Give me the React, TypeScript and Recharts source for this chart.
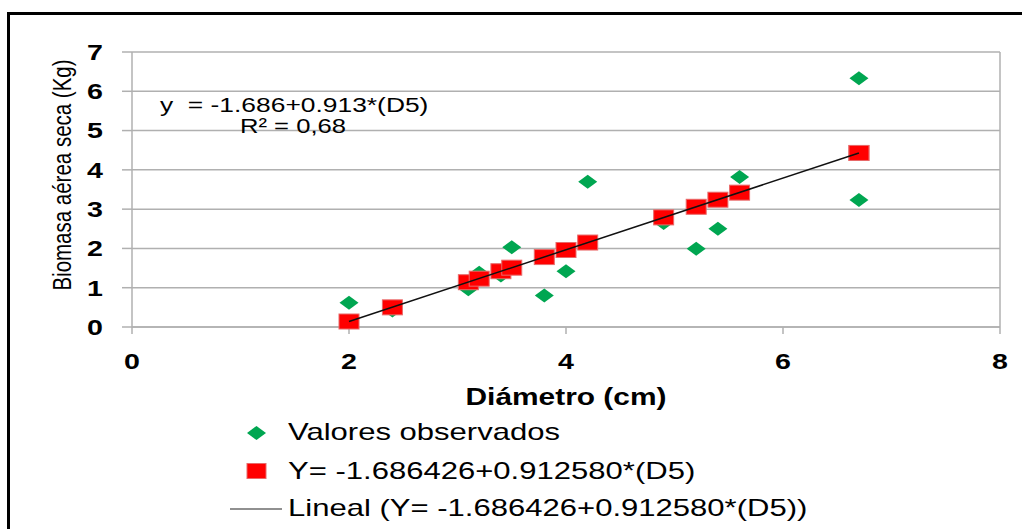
import { ScatterChart, Scatter, XAxis, YAxis, CartesianGrid, ReferenceLine, Legend } from "recharts";

// diameter (cm) of each sampled tree
const diameters = [2.0, 2.4, 3.1, 3.2, 3.4, 3.5, 3.8, 4.0, 4.2, 4.9, 5.2, 5.4, 5.6, 6.7, 6.7];
// observed dry above-ground biomass (kg)
const observed = [0.62, 0.42, 0.96, 1.38, 1.31, 2.03, 0.8, 1.42, 3.7, 2.65, 1.99, 2.5, 3.82, 3.23, 6.33];
// fitted values Y = -1.686426 + 0.912580 * D
const predicted = [0.14, 0.5, 1.14, 1.23, 1.42, 1.51, 1.78, 1.96, 2.15, 2.79, 3.06, 3.24, 3.42, 4.43, 4.43];
// trend line ends
const trendX = [2.0, 6.7];
const trendY = [0.14, 4.43];

const xTicks = [0, 2, 4, 6, 8];
const yTicks = [0, 1, 2, 3, 4, 5, 6, 7];

const obsData = diameters.map((d, i) => ({ x: d, y: observed[i] }));
const predData = diameters.map((d, i) => ({ x: d, y: predicted[i] }));
const trendData = trendX.map((d, i) => ({ x: d, y: trendY[i] }));

const FONT = '"Liberation Sans", Arial, sans-serif';
const SX = 1.3; // the original picture is stretched sideways
const GRID = "#b0b0b0";
const GREEN = "#00a651";
const RED = "#ff0000";

const stretch = (x: number, s = SX) => `matrix(${s} 0 0 1 ${x - s * x} 0)`;

const Diamond = (p: any) => (
  <polygon
    points={`${p.cx},${p.cy - 7} ${p.cx + 9.5},${p.cy} ${p.cx},${p.cy + 7} ${p.cx - 9.5},${p.cy}`}
    fill={GREEN}
  />
);

const Square = (p: any) => (
  <rect x={p.cx - 10} y={p.cy - 7.5} width={20} height={15} fill={RED} stroke="#e86a6a" strokeWidth={1} />
);

const YTick = ({ x, y, payload }: any) => (
  <text x={x} y={y} dy="0.355em" textAnchor="end" fontFamily={FONT} fontWeight="bold" fontSize={22} fill="#000" transform={stretch(x)}>
    {payload.value}
  </text>
);

const XTick = ({ x, y, payload }: any) => (
  <text x={x} y={y} dy="0.71em" textAnchor="middle" fontFamily={FONT} fontWeight="bold" fontSize={22} fill="#000" transform={stretch(x)}>
    {payload.value}
  </text>
);

const LegendBox = () => (
  <svg width={1022} height={110} style={{ display: "block", overflow: "visible" }}>
    <g transform="translate(0 9)">
      <polygon points="256.5,10 266,17 256.5,24 247,17" fill={GREEN} />
      <text x={288} y={24} fontFamily={FONT} fontSize={23} fill="#000" transform={stretch(288, 1.35)}>
        Valores observados
      </text>
      <rect x={247} y={47.5} width={19} height={15} fill={RED} stroke="#e86a6a" strokeWidth={1} />
      <text x={288} y={63} fontFamily={FONT} fontSize={23} fill="#000" transform={stretch(288, 1.35)}>
        Y= -1.686426+0.912580*(D5)
      </text>
      <line x1={230} y1={93} x2={282} y2={93} stroke="#222" strokeWidth={1.2} />
      <text x={288} y={100} fontFamily={FONT} fontSize={23} fill="#000" transform={stretch(288, 1.35)}>
        Lineal (Y= -1.686426+0.912580*(D5))
      </text>
    </g>
  </svg>
);

export default function App() {
  return (
    <div style={{ position: "absolute", left: 0, top: 0, width: 1022, height: 529, overflow: "hidden", background: "#fff" }}>
      <div style={{ position: "absolute", left: 7, top: 12, width: 1100, height: 600, borderTop: "3px solid #000", borderLeft: "3px solid #000" }} />
      <ScatterChart width={1022} height={529} margin={{ top: 52, right: 22, bottom: 12, left: 0 }}>
        <CartesianGrid horizontal vertical={false} stroke={GRID} strokeWidth={1.5} />
        <XAxis
          type="number"
          dataKey="x"
          domain={[0, 8]}
          ticks={xTicks}
          height={80}
          tickSize={7}
          tickMargin={19}
          tick={<XTick />}
          tickLine={{ stroke: GRID, strokeWidth: 1.5 }}
          axisLine={{ stroke: GRID, strokeWidth: 1.5 }}
          label={{
            content: () => (
              <text x={566} y={405} textAnchor="middle" fontFamily={FONT} fontWeight="bold" fontSize={23} fill="#000" transform={stretch(566)}>
                Diámetro (cm)
              </text>
            ),
          }}
        />
        <YAxis
          type="number"
          dataKey="y"
          domain={[0, 7]}
          ticks={yTicks}
          width={132}
          tickSize={10}
          tickMargin={19}
          tick={<YTick />}
          tickLine={{ stroke: GRID, strokeWidth: 1.5 }}
          axisLine={{ stroke: GRID, strokeWidth: 1.5 }}
          label={{
            content: () => (
              <text
                x={0}
                y={0}
                textAnchor="middle"
                fontFamily={FONT}
                fontSize={20.5}
                fill="#000"
                transform="translate(71 175) scale(1.25 1) rotate(-90)"
              >
                Biomasa aérea seca (Kg)
              </text>
            ),
          }}
        />
        <ReferenceLine x={8} stroke={GRID} strokeWidth={1.5} />
        <Scatter name="Valores observados" data={obsData} shape={Diamond} isAnimationActive={false} />
        <Scatter name="Y= -1.686426+0.912580*(D5)" data={predData} shape={Square} isAnimationActive={false} />
        <Scatter
          name="Lineal (Y= -1.686426+0.912580*(D5))"
          data={trendData}
          line={{ stroke: "#111", strokeWidth: 1.5 }}
          shape={() => <g />}
          isAnimationActive={false}
        />
        <Legend content={<LegendBox />} wrapperStyle={{ left: 0, width: 1022, height: 110 }} />
      </ScatterChart>
      <svg width={1022} height={529} style={{ position: "absolute", left: 0, top: 0, pointerEvents: "none" }}>
        <text x={160} y={112} fontFamily={FONT} fontSize={20} fill="#000" transform={stretch(160, 1.32)} xmlSpace="preserve">
          {"y  = -1.686+0.913*(D5)"}
        </text>
        <text x={240} y={133} fontFamily={FONT} fontSize={20} fill="#000" transform={stretch(240, 1.28)}>
          R² = 0,68
        </text>
      </svg>
    </div>
  );
}
